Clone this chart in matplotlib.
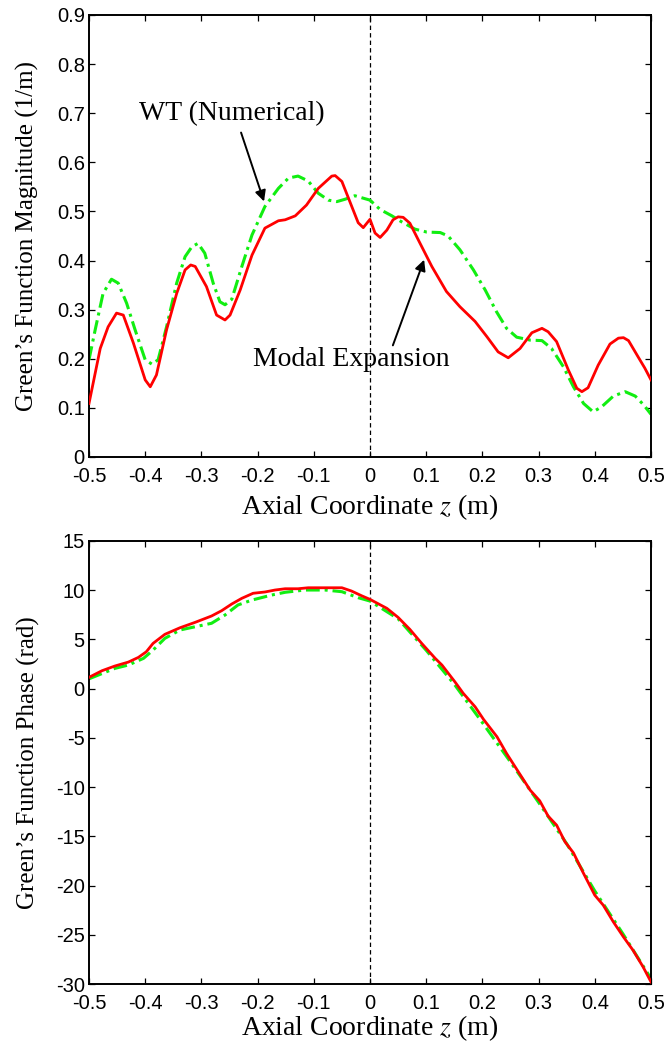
import matplotlib
matplotlib.use("Agg")
import matplotlib.pyplot as plt
import numpy as np

# magnitude, modal expansion (red)
z_mag_modal = [-0.500, -0.480, -0.466, -0.451, -0.439, -0.421, -0.400, -0.391, -0.380, -0.362,
               -0.344, -0.329, -0.319, -0.311, -0.291, -0.273, -0.258, -0.249, -0.231, -0.210,
               -0.187, -0.163, -0.151, -0.133, -0.113, -0.092, -0.068, -0.062, -0.050, -0.030,
               -0.021, -0.012, 0.000, 0.009, 0.018, 0.030, 0.041, 0.050, 0.059, 0.071,
               0.086, 0.110, 0.136, 0.160, 0.187, 0.208, 0.228, 0.246, 0.267, 0.288,
               0.306, 0.317, 0.332, 0.353, 0.368, 0.377, 0.388, 0.406, 0.427, 0.442,
               0.451, 0.460, 0.477, 0.489, 0.500]
mag_modal = [0.109, 0.221, 0.265, 0.293, 0.289, 0.232, 0.157, 0.143, 0.167, 0.259,
             0.333, 0.381, 0.391, 0.388, 0.347, 0.289, 0.279, 0.289, 0.340, 0.411,
             0.466, 0.481, 0.483, 0.491, 0.513, 0.547, 0.572, 0.573, 0.561, 0.503,
             0.477, 0.467, 0.484, 0.456, 0.447, 0.462, 0.483, 0.489, 0.488, 0.476,
             0.442, 0.388, 0.337, 0.306, 0.276, 0.245, 0.214, 0.202, 0.221, 0.253,
             0.262, 0.255, 0.235, 0.177, 0.140, 0.133, 0.141, 0.187, 0.230, 0.242,
             0.243, 0.237, 0.204, 0.181, 0.157]

# magnitude, WT numerical (green)
z_mag_wt = [-0.500, -0.489, -0.475, -0.460, -0.448, -0.433, -0.418, -0.400, -0.388, -0.377,
            -0.362, -0.344, -0.329, -0.317, -0.306, -0.294, -0.279, -0.267, -0.258, -0.246,
            -0.228, -0.210, -0.187, -0.163, -0.145, -0.128, -0.110, -0.092, -0.074, -0.059,
            -0.044, -0.027, -0.009, 0.000, 0.018, 0.039, 0.056, 0.080, 0.101, 0.125,
            0.139, 0.160, 0.184, 0.205, 0.225, 0.243, 0.261, 0.285, 0.306, 0.323,
            0.344, 0.362, 0.380, 0.397, 0.412, 0.433, 0.454, 0.472, 0.487, 0.500]
mag_wt = [0.198, 0.259, 0.333, 0.362, 0.354, 0.313, 0.259, 0.198, 0.189, 0.198,
          0.265, 0.354, 0.408, 0.428, 0.435, 0.415, 0.354, 0.316, 0.310, 0.321,
          0.388, 0.452, 0.510, 0.547, 0.568, 0.572, 0.562, 0.537, 0.523, 0.520,
          0.525, 0.532, 0.526, 0.523, 0.504, 0.491, 0.479, 0.464, 0.458, 0.457,
          0.450, 0.422, 0.381, 0.340, 0.296, 0.262, 0.244, 0.238, 0.237, 0.221,
          0.184, 0.143, 0.109, 0.092, 0.102, 0.124, 0.133, 0.124, 0.106, 0.087]

# phase, modal expansion (red)
z_ph_modal = [-0.500, -0.477, -0.454, -0.430, -0.412, -0.398, -0.386, -0.365, -0.338, -0.311,
              -0.282, -0.264, -0.246, -0.228, -0.208, -0.187, -0.169, -0.151, -0.128, -0.110,
              -0.080, -0.050, -0.033, -0.015, 0.000, 0.030, 0.050, 0.071, 0.092, 0.116,
              0.128, 0.151, 0.166, 0.187, 0.202, 0.226, 0.243, 0.264, 0.285, 0.302,
              0.317, 0.332, 0.347, 0.362, 0.380, 0.400, 0.415, 0.433, 0.451, 0.468,
              0.486, 0.500]
ph_modal = [1.15, 1.82, 2.30, 2.70, 3.18, 3.75, 4.60, 5.52, 6.19, 6.74,
            7.38, 7.92, 8.60, 9.18, 9.69, 9.82, 10.02, 10.15, 10.15, 10.25,
            10.25, 10.25, 9.92, 9.44, 9.07, 8.16, 7.24, 6.02, 4.60, 3.08,
            2.40, 0.70, -0.48, -1.84, -3.12, -4.89, -6.58, -8.45, -10.31, -11.39,
            -12.95, -13.86, -15.56, -16.68, -18.77, -20.98, -21.99, -23.69, -25.22, -26.57,
            -28.27, -29.79]

# phase, WT numerical (green)
z_ph_wt = [-0.500, -0.454, -0.430, -0.403, -0.386, -0.365, -0.338, -0.311, -0.282, -0.258,
           -0.235, -0.210, -0.175, -0.151, -0.116, -0.080, -0.050, -0.021, 0.000, 0.050,
           0.100, 0.150, 0.200, 0.250, 0.300, 0.350, 0.400, 0.450, 0.500]
ph_wt = [1.00, 2.06, 2.40, 3.08, 3.92, 5.11, 5.96, 6.29, 6.64, 7.48,
         8.50, 9.00, 9.51, 9.79, 10.02, 10.02, 9.85, 9.24, 8.90, 7.10,
         3.90, 0.45, -3.45, -7.45, -11.55, -15.75, -20.55, -24.90, -29.45]

xticks = np.round(np.arange(-0.5, 0.51, 0.1), 1)
xticklabels = ["-0.5", "-0.4", "-0.3", "-0.2", "-0.1", "0", "0.1", "0.2", "0.3", "0.4", "0.5"]
mag_ticks = [0, 0.1, 0.2, 0.3, 0.4, 0.5, 0.6, 0.7, 0.8, 0.9]
mag_ticklabels = ["0", "0.1", "0.2", "0.3", "0.4", "0.5", "0.6", "0.7", "0.8", "0.9"]
ph_ticks = [-30, -25, -20, -15, -10, -5, 0, 5, 10, 15]
ph_ticklabels = ["-30", "-25", "-20", "-15", "-10", "-5", "0", "5", "10", "15"]

plt.rcParams["mathtext.fontset"] = "stix"
plt.rcParams["axes.unicode_minus"] = False

red = "#ff0000"
green = "#11ee11"
dashdot = (0, (4.5, 1.6, 1.0, 1.6))
serif = "Liberation Serif"
sans = "Liberation Sans"

fig = plt.figure(figsize=(6.65, 10.51), dpi=100)
ax1 = fig.add_axes([89 / 665, 1 - 457 / 1051, 562 / 665, 442 / 1051])
ax2 = fig.add_axes([89 / 665, 1 - 984 / 1051, 562 / 665, 443 / 1051])


def style_axis(ax):
    ax.set_xlim(-0.5, 0.5)
    ax.set_xticks(xticks)
    ax.set_xticklabels(xticklabels)
    ax.tick_params(direction="in", length=4.5, width=0.9, top=True, right=True,
                   labelsize=14.5)
    ax.tick_params(axis="x", pad=7)
    ax.tick_params(axis="y", pad=3)
    for lab in ax.get_xticklabels() + ax.get_yticklabels():
        lab.set_fontfamily(sans)
    for s in ax.spines.values():
        s.set_linewidth(1.4)
    ax.axvline(0, color="k", ls="--", lw=0.9, dashes=(3.5, 2.5), zorder=1)


ax1.plot(z_mag_wt, mag_wt, color=green, lw=2.2, ls=dashdot, zorder=2)
ax1.plot(z_mag_modal, mag_modal, color=red, lw=2.0, zorder=3)
ax1.set_ylim(0, 0.9)
ax1.set_yticks(mag_ticks)
ax1.set_yticklabels(mag_ticklabels)
style_axis(ax1)
ax1.set_xlabel("Axial Coordinate $z$ (m)", fontsize=20, fontfamily=serif, va="center")
ax1.xaxis.set_label_coords(0.5, -0.113)
ax1.set_ylabel("Green\u2019s Function Magnitude (1/m)", fontsize=18, fontfamily=serif,
               va="center")
ax1.yaxis.set_label_coords(-0.11, 0.5)

ax1.text(-0.246, 0.700, "WT (Numerical)", fontsize=20, fontfamily=serif,
         ha="center", va="center")
ax1.annotate("", xy=(-0.187, 0.515), xytext=(-0.231, 0.666),
             arrowprops=dict(arrowstyle="-|>", color="k", lw=1.4, mutation_scale=16))
ax1.text(-0.033, 0.198, "Modal Expansion", fontsize=20, fontfamily=serif,
         ha="center", va="center")
ax1.annotate("", xy=(0.098, 0.407), xytext=(0.039, 0.222),
             arrowprops=dict(arrowstyle="-|>", color="k", lw=1.4, mutation_scale=16))

ax2.plot(z_ph_wt, ph_wt, color=green, lw=2.2, ls=dashdot, zorder=2)
ax2.plot(z_ph_modal, ph_modal, color=red, lw=2.0, zorder=3)
ax2.set_ylim(-30, 15)
ax2.set_yticks(ph_ticks)
ax2.set_yticklabels(ph_ticklabels)
style_axis(ax2)
ax2.set_xlabel("Axial Coordinate $z$ (m)", fontsize=20, fontfamily=serif, va="center")
ax2.xaxis.set_label_coords(0.5, -0.1)
ax2.set_ylabel("Green\u2019s Function Phase (rad)", fontsize=18, fontfamily=serif,
               va="center")
ax2.yaxis.set_label_coords(-0.107, 0.5)

fig.savefig("out.png", dpi=100)
